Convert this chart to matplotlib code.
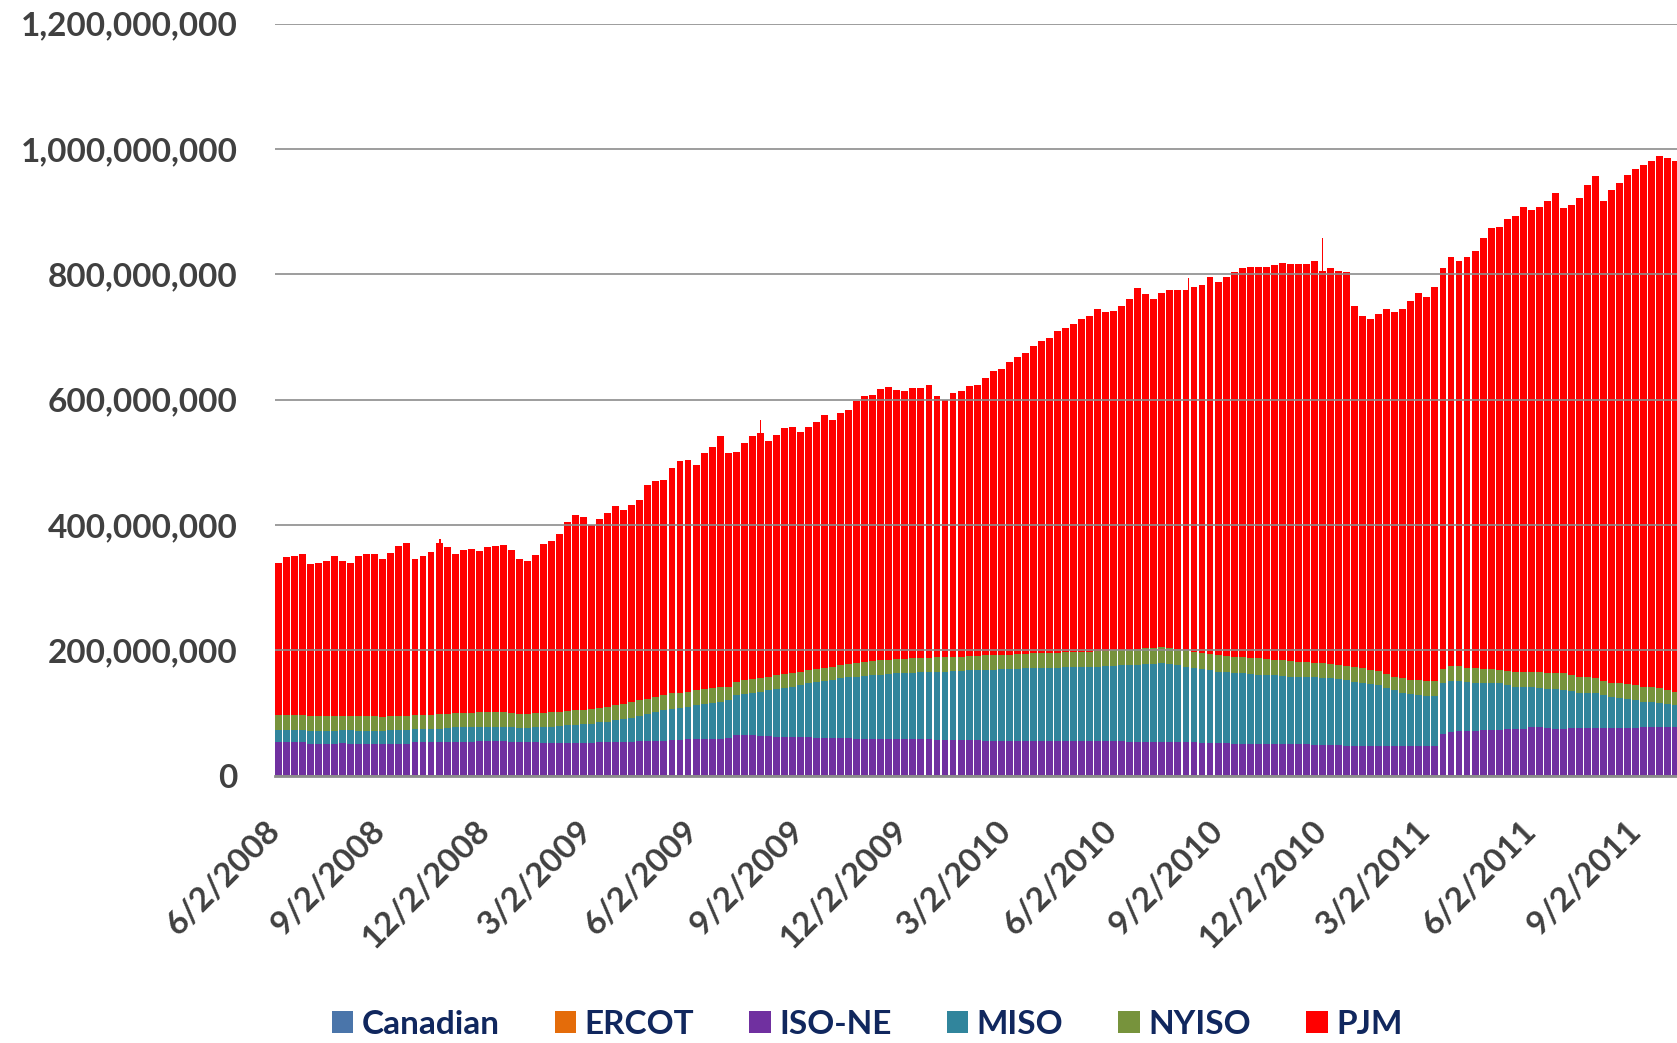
import numpy as np
import pandas as pd
import matplotlib
matplotlib.use("Agg")
import matplotlib.pyplot as plt
from matplotlib.patches import Patch
from matplotlib.ticker import FuncFormatter

# weekly readings, in millions, one value per week starting 6/2/2008
# top of the whole stack (PJM top)
total_top = [
    340, 348, 351, 353, 338, 339, 343, 350, 342, 340, 350, 354, 353, 345, 355, 367, 371, 346, 350, 356, 371, 365, 354,
    360, 362, 358, 364, 366, 368, 360, 345, 342, 352, 370, 375,
    385, 405, 415, 413, 400, 410, 419, 430, 424, 431, 440, 464, 470, 472, 491,
    502, 503, 496, 514, 524, 542, 515, 516, 531, 542, 547, 534, 544, 554, 556, 548, 557, 564, 576, 567, 579, 584, 597, 606, 607,
    617, 620, 615, 613, 619, 619, 623, 606, 600, 610, 614, 622, 624, 634, 645, 648, 660, 668, 675, 685, 694, 698, 709, 714, 720,
    728, 733, 744, 740, 741, 750, 760, 778, 768, 760, 770, 775, 775, 775, 780, 783, 795, 788, 796, 804, 810, 811, 811, 811, 814,
    818, 816, 816, 816, 821, 805, 810, 805, 804, 750, 733, 728, 736, 745, 739, 745, 758, 770, 763, 780, 810, 828, 821, 827, 837,
    858, 873, 875, 888, 893, 908, 902, 908, 916, 930, 905, 911, 921, 943, 956, 916, 935, 946, 959, 968, 974, 980, 989, 985, 980,
]
# top of the NYISO band
nyiso_top = [
    96, 96, 96, 96, 95, 95, 95, 95, 95, 95, 95, 95, 95, 94, 95, 95, 95, 97, 97, 97, 98, 99, 100,
    100, 100, 101, 101, 101, 101, 100, 99, 99, 100, 100, 101,
    102, 103, 104, 105, 106, 108, 110, 112, 114, 117, 120, 123, 126, 129, 131,
    132, 134, 136, 138, 140, 141, 142, 150, 152, 154, 156, 158, 160, 162, 164, 166, 168, 170, 172, 174, 176, 178, 180, 182, 183,
    184, 185, 186, 186, 187, 188, 188, 189, 189, 190, 190, 191, 191, 192, 192, 193, 193, 194, 194, 195, 195, 196, 196, 197, 197,
    198, 198, 199, 199, 200, 200, 201, 202, 203, 204, 205, 204, 202, 200, 198, 196, 194, 192, 191, 190, 189, 188, 187, 186, 185,
    184, 183, 182, 181, 180, 179, 178, 177, 175, 173, 171, 169, 167, 162, 158, 155, 153, 152, 151, 151, 170, 175, 175, 172, 171,
    170, 170, 169, 167, 166, 166, 166, 165, 164, 164, 163, 160, 158, 157, 155, 151, 148, 147, 146, 144, 142, 141, 139, 136, 134,
]
# top of the MISO band
miso_top = [
    73, 73, 73, 73, 71, 71, 71, 71, 72, 72, 71, 71, 71, 71, 72, 72, 72, 74, 74, 74, 75, 76, 77,
    77, 77, 78, 78, 78, 78, 77, 76, 76, 77, 77, 78,
    79, 80, 81, 82, 83, 85, 86, 88, 90, 92, 95, 98, 101, 104, 107,
    108, 110, 112, 114, 116, 118, 120, 128, 130, 132, 134, 136, 138, 140, 142, 145, 147, 149, 151, 153, 155, 157, 158, 159, 160,
    161, 162, 163, 163, 164, 165, 165, 166, 166, 167, 167, 168, 168, 169, 169, 170, 170, 170, 171, 171, 172, 172, 172, 173, 173,
    173, 174, 174, 175, 175, 176, 176, 177, 178, 178, 179, 178, 176, 174, 172, 170, 168, 166, 165, 164, 163, 162, 161, 160, 160,
    159, 158, 158, 157, 157, 156, 155, 154, 152, 150, 148, 146, 144, 140, 136, 132, 130, 128, 127, 127, 147, 151, 151, 149, 148,
    148, 148, 147, 145, 142, 141, 141, 140, 138, 138, 137, 135, 132, 132, 131, 128, 125, 124, 122, 120, 118, 117, 116, 114, 112,
]
# ISO-NE band (sits on the axis)
iso_ne = [
    53, 53, 53, 53, 51, 51, 51, 51, 52, 51, 51, 51, 51, 51, 51, 51, 51, 53, 53, 53, 53, 54, 54,
    54, 54, 55, 55, 55, 55, 54, 54, 53, 53, 52, 52,
    52, 52, 52, 52, 52, 53, 53, 53, 54, 54, 55, 55, 56, 56, 57,
    57, 58, 58, 58, 59, 59, 60, 64, 64, 64, 63, 63, 62, 62, 61, 61, 61, 60, 60, 60, 60, 60, 59, 59, 59,
    59, 59, 58, 58, 58, 58, 58, 57, 57, 57, 57, 57, 57, 56, 56, 56, 56, 56, 56, 56, 55, 55, 55, 55, 55,
    55, 55, 55, 55, 55, 55, 54, 54, 54, 54, 54, 53, 53, 53, 53, 52, 52, 52, 52, 51, 51, 51, 51, 51, 50,
    50, 50, 50, 50, 49, 49, 49, 49, 48, 48, 48, 47, 47, 47, 47, 47, 47, 47, 47, 47, 66, 70, 71, 71, 71,
    72, 73, 73, 74, 74, 74, 77, 78, 76, 75, 75, 76, 76, 76, 76, 76, 76, 76, 76, 76, 77, 77, 78, 78, 78,
]
# single-day peaks that stick out above their week
spike_days = ["2008-10-24", "2009-07-30", "2010-08-07", "2010-12-02"]
spike_tops = [378, 567, 794, 857]

tick_dates = ["2008-06-02", "2008-09-02", "2008-12-02", "2009-03-02", "2009-06-02", "2009-09-02",
              "2009-12-02", "2010-03-02", "2010-06-02", "2010-09-02", "2010-12-02", "2011-03-02",
              "2011-06-02", "2011-09-02"]
tick_labels = ["6/2/2008", "9/2/2008", "12/2/2008", "3/2/2009", "6/2/2009", "9/2/2009",
               "12/2/2009", "3/2/2010", "6/2/2010", "9/2/2010", "12/2/2010", "3/2/2011",
               "6/2/2011", "9/2/2011"]

names = ["Canadian", "ERCOT", "ISO-NE", "MISO", "NYISO", "PJM"]
colors = ["#4A75AA", "#E46C0A", "#7030A0", "#31859C", "#77933C", "#FF0000"]

n = len(total_top)
assert len(nyiso_top) == n and len(miso_top) == n and len(iso_ne) == n

scale = 1e6
iso = np.array(iso_ne) * scale
miso = (np.array(miso_top) - np.array(iso_ne)) * scale
nyiso = (np.array(nyiso_top) - np.array(miso_top)) * scale
pjm = (np.array(total_top) - np.array(nyiso_top)) * scale
canadian = np.zeros(n)
ercot = np.zeros(n)
series = [canadian, ercot, iso, miso, nyiso, pjm]

weeks = pd.date_range("2008-06-02", periods=n, freq="7D")

fig = plt.figure(figsize=(16.77, 10.43), dpi=100)
ax = fig.add_axes([275 / 1677, 1 - 775.6 / 1043, 1 - 275 / 1677, (775.6 - 23.5) / 1043])

bottom = np.zeros(n)
for vals, c in zip(series, colors):
    ax.bar(weeks, vals, bottom=bottom, width=6.0, align="edge", color=c, linewidth=0, zorder=2)
    bottom = bottom + vals

ax.bar(pd.to_datetime(spike_days), np.array(spike_tops) * scale, width=1.3, align="center",
       color=colors[-1], linewidth=0, zorder=1.5)

ax.set_ylim(0, 1.2e9)
ax.set_yticks(np.arange(0, 1.2e9 + 1, 2e8))
ax.yaxis.set_major_formatter(FuncFormatter(lambda v, p: f"{int(v):,}"))
ax.set_xlim(pd.Timestamp("2008-06-02"), pd.Timestamp("2008-06-02") + pd.Timedelta(days=1222))

ax.set_xticks(pd.to_datetime(tick_dates))
ax.set_xticklabels(tick_labels, rotation=45, ha="right", va="center", rotation_mode="anchor")

ax.grid(axis="y", color="#8c8c8c", linewidth=1.2, zorder=3)
ax.set_axisbelow(False)
for s in ["top", "right", "left"]:
    ax.spines[s].set_visible(False)
ax.spines["bottom"].set_color("#8c8c8c")
ax.spines["bottom"].set_linewidth(2)
ax.spines["bottom"].set_zorder(4)

ax.tick_params(axis="both", length=0, labelcolor="#404040")
ax.tick_params(axis="y", pad=27)
ax.tick_params(axis="x", pad=36)
for lab in ax.get_xticklabels() + ax.get_yticklabels():
    lab.set_fontfamily(["Lato", "DejaVu Sans"])
    lab.set_fontweight("bold")
    lab.set_fontsize(24)

handles = [Patch(facecolor=c, edgecolor="none") for c in colors]
leg = fig.legend(handles, names, loc="center", bbox_to_anchor=(0.517, 0.018), ncol=6,
                 frameon=False, handlelength=0.65, handleheight=0.65, handletextpad=0.25,
                 columnspacing=1.65, prop={"family": ["Lato", "DejaVu Sans"], "weight": "bold", "size": 24})
for t in leg.get_texts():
    t.set_color("#10275E")

fig.savefig("out.png", dpi=100)
